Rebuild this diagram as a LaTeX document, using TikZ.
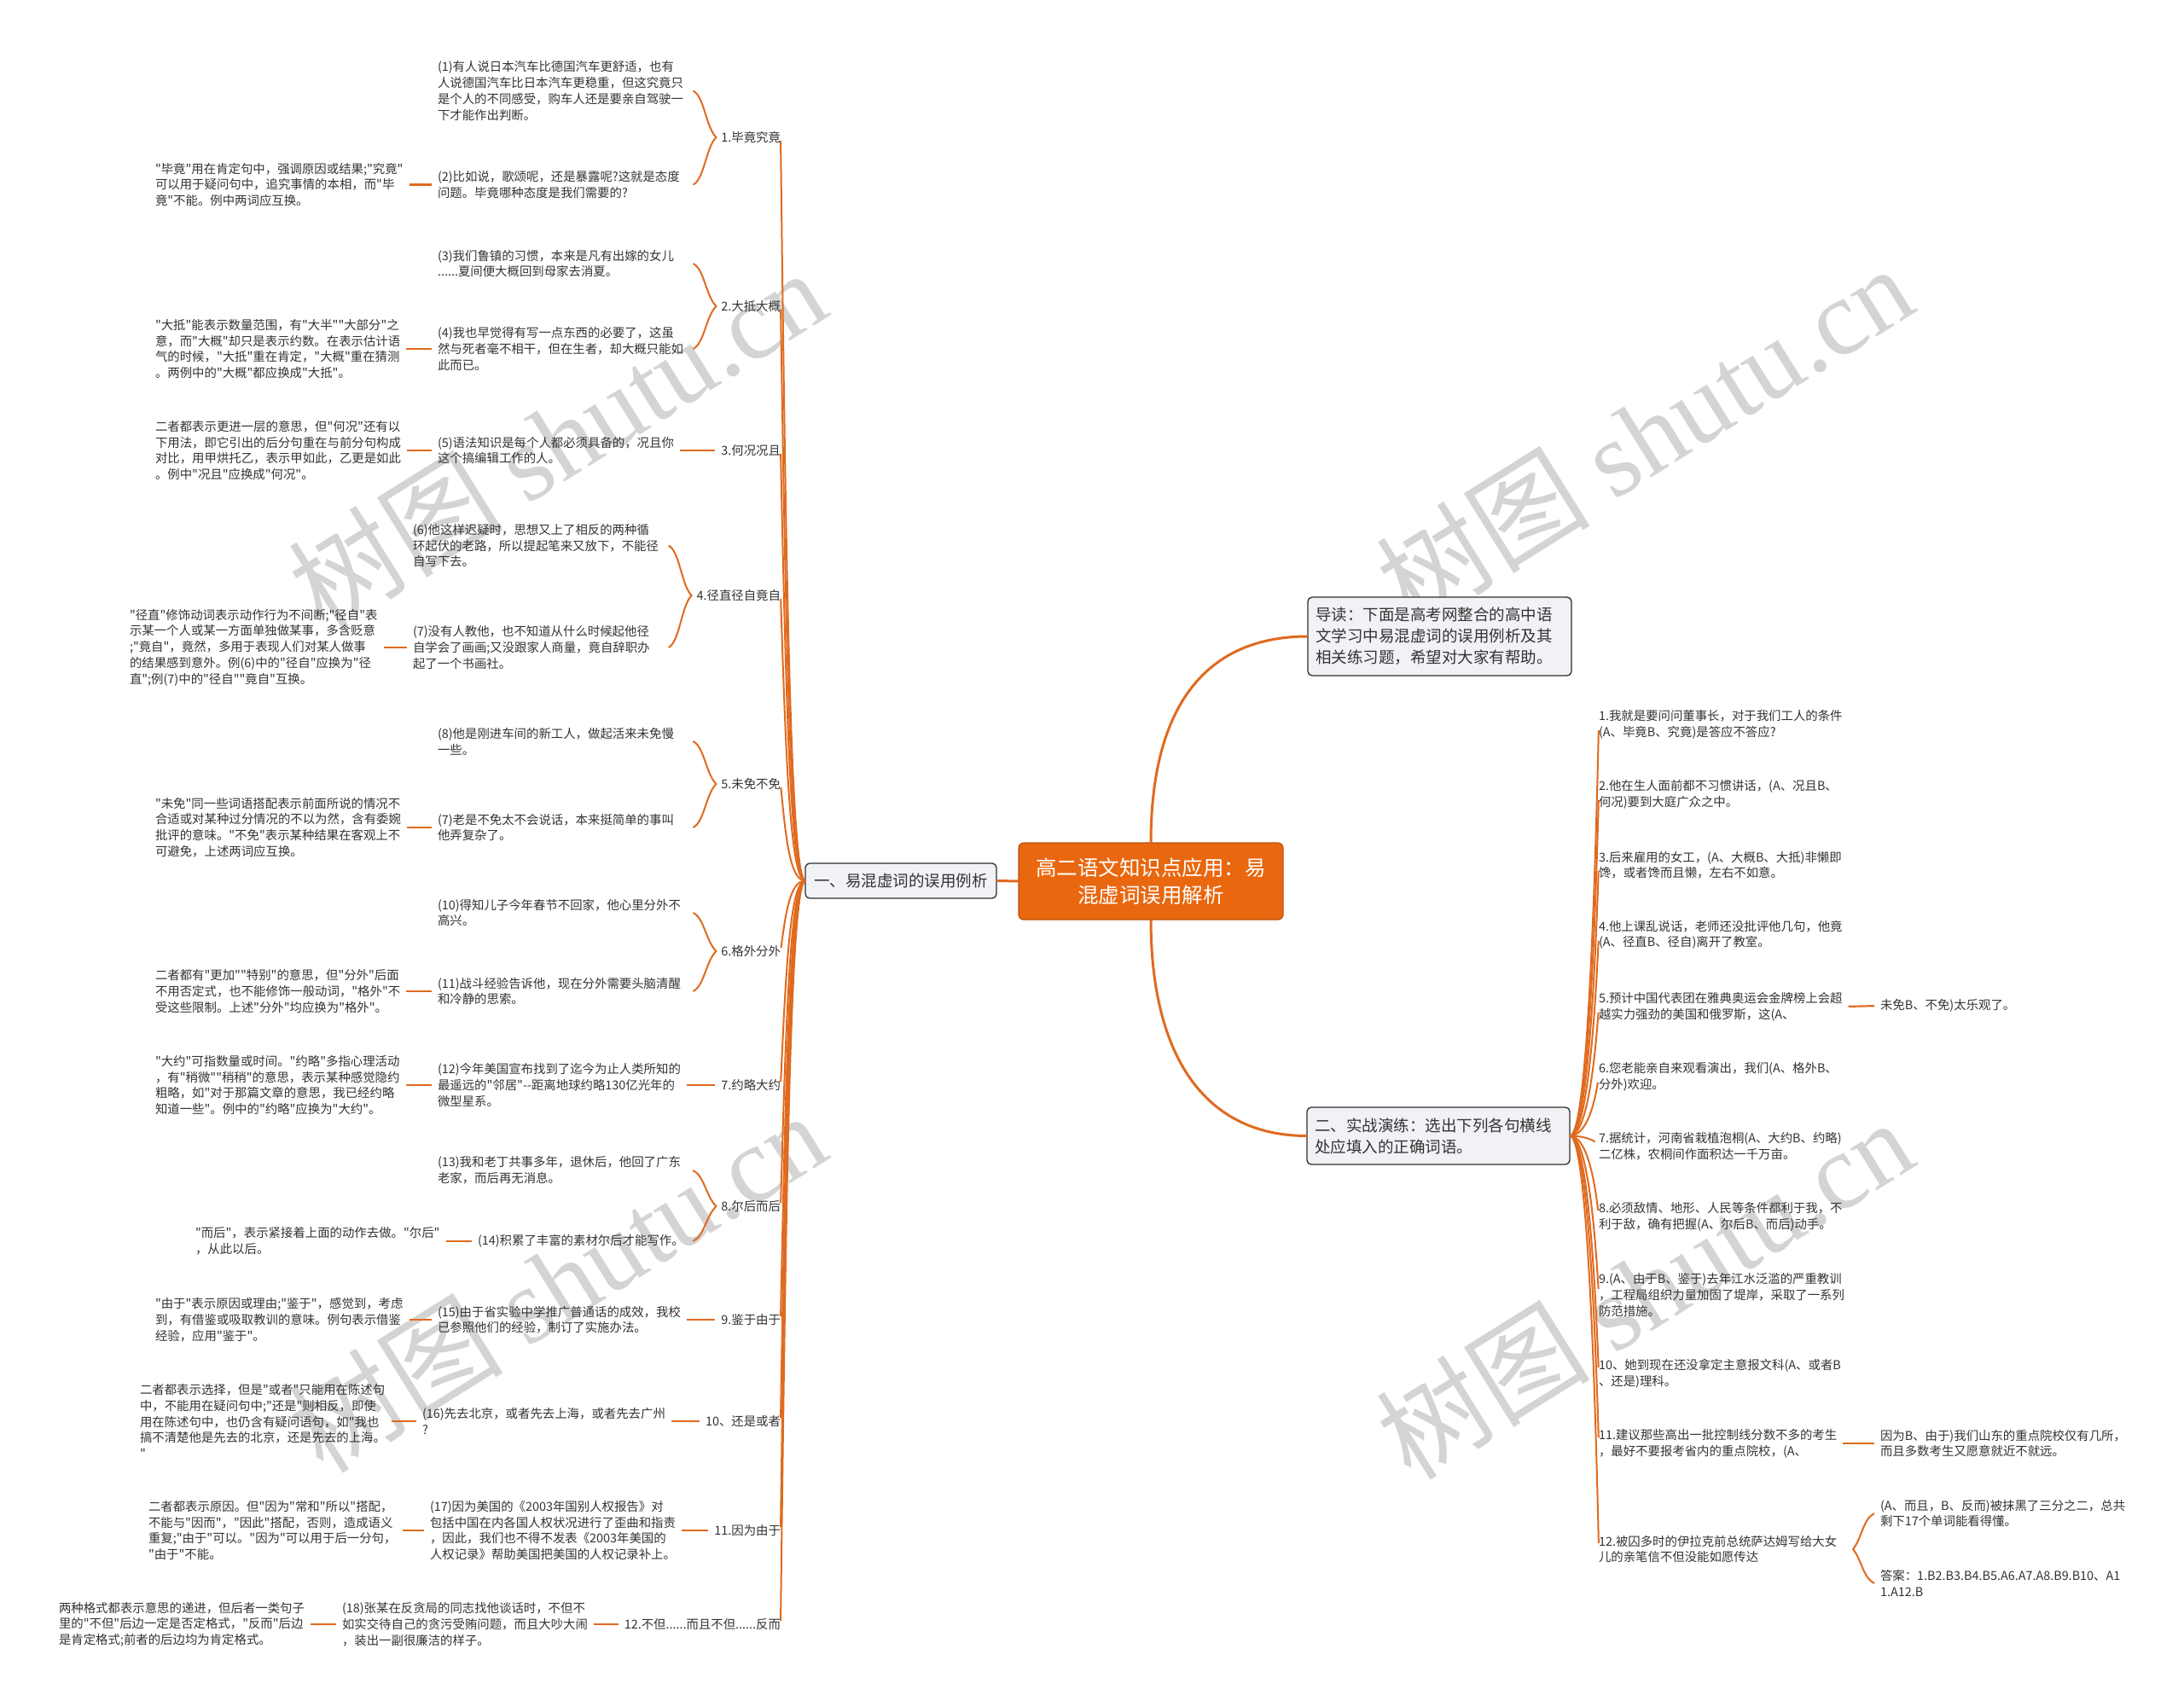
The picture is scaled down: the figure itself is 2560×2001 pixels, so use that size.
\documentclass[tikz,border=0pt]{standalone}
\usepackage{fontspec}
\setmainfont{Noto Sans CJK SC}[Ligatures=TeXOff]
\newfontfamily\wmserif{Liberation Serif}
\usetikzlibrary{calc}
\definecolor{orng}{HTML}{E06A1F}
\definecolor{txt}{HTML}{333333}
\definecolor{boxfill}{HTML}{F0F2F5}
\definecolor{boxline}{HTML}{2E2E2E}
\definecolor{ctrfill}{HTML}{E8670F}
\definecolor{ctrline}{HTML}{B9520C}
\definecolor{wm}{HTML}{D4D4D4}
\newcommand\bracel[3]{%
 \draw[brc] let \p1=(#1.west), \p2=(#2.west), \p3=(#3.west) in
 (\x1-33pt,\y2) .. controls (\x1-20pt,\y2-6pt) and (\x1-18pt,\y1+12pt) .. (\x1-6pt,\y1)
 .. controls (\x1-18pt,\y1-12pt) and (\x1-20pt,\y3+6pt) .. (\x1-33pt,\y3);}
\newcommand\bracer[3]{%
 \draw[brc] let \p1=(#2.west), \p2=(#3.west), \p4=(#1.west) in
 (\x1-7pt,\y1) .. controls (\x1-20pt,\y1-6pt) and (\x1-22pt,\y4+12pt) .. (\x1-32pt,\y4)
 .. controls (\x1-22pt,\y4-12pt) and (\x1-20pt,\y2+6pt) .. (\x2-7pt,\y2);}
\begin{document}
\begin{tikzpicture}[x=1pt,y=-1pt,
  every node/.style={inner sep=0pt, outer sep=0pt, text=txt},
  small/.style={font=\fontsize{14.4}{18.7}\selectfont, align=left},
  lbl/.style={small, anchor=east},
  txtw/.style={small, anchor=west},
  conn/.style={draw=orng, line width=2.2pt},
  dashc/.style={conn, shorten <=7pt, shorten >=7pt},
  fan/.style={draw=orng, line width=2pt},
  brc/.style={draw=orng, line width=2pt},
  mainc/.style={draw=orng, line width=3pt},
  bx/.style={draw=boxline, fill=boxfill, rounded corners=5pt, line width=1.3pt,
    font=\fontsize{18.5}{25}\selectfont, inner xsep=9pt},
  ctr/.style={draw=ctrline, fill=ctrfill, rounded corners=6pt, line width=1.2pt,
    minimum width=310pt, minimum height=90pt, text=white, align=center,
    font=\fontsize{24.5}{32}\selectfont},
  wmark/.style={text=wm, rotate=32, font=\fontsize{126}{126}\selectfont}
]
\fill[white] (0,0) rectangle (2560,2001);
\useasboundingbox (0,0) rectangle (2560,2001);

% watermarks
\node[wmark] (w1) at (653,514) {树图 {\wmserif shutu.cn}};
\node[wmark] (w2) at (653,1502) {树图 {\wmserif shutu.cn}};
\node[wmark] (w3) at (1927,509) {树图 {\wmserif shutu.cn}};
\node[wmark] (w4) at (1927,1510) {树图 {\wmserif shutu.cn}};

% central and main boxes
\node[ctr] (c) at (1349,1033) {高二语文知识点应用：易\\混虚词误用解析};
\node[bx, minimum width=224pt, minimum height=41pt] (lb) at (1056,1032.5) {一、易混虚词的误用例析};
\node[bx, text width=291pt, minimum height=92pt, align=left] (db) at (1687.5,746) {导读：下面是高考网整合的高中语\\文学习中易混虚词的误用例析及其\\相关练习题，希望对大家有帮助。};
\node[bx, text width=290pt, minimum height=67pt, align=left] (rb) at (1686,1331.5) {二、实战演练：选出下列各句横线\\处应填入的正确词语。};

% row 1
\node[lbl] (l1) at (915,161) {1.毕竟究竟};
\node[txtw] (e1) at (513,106.5) {(1)有人说日本汽车比德国汽车更舒适，也有\\人说德国汽车比日本汽车更稳重，但这究竟只\\是个人的不同感受，购车人还是要亲自驾驶一\\下才能作出判断。};
\node[txtw] (e2) at (513,216.5) {(2)比如说，歌颂呢，还是暴露呢?这就是态度\\问题。毕竟哪种态度是我们需要的?};
\node[txtw] (n1) at (182,216.5) {"毕竟"用在肯定句中，强调原因或结果;"究竟"\\可以用于疑问句中，追究事情的本相，而"毕\\竟"不能。例中两词应互换。};
% row 2
\node[lbl] (l2) at (915,359) {2.大抵大概};
\node[txtw] (e3) at (513,309) {(3)我们鲁镇的习惯，本来是凡有出嫁的女儿\\......夏间便大概回到母家去消夏。};
\node[txtw] (e4) at (513,409) {(4)我也早觉得有写一点东西的必要了，这虽\\然与死者毫不相干，但在生者，却大概只能如\\此而已。};
\node[txtw] (n2) at (182,409) {"大抵"能表示数量范围，有"大半""大部分"之\\意，而"大概"却只是表示约数。在表示估计语\\气的时候，"大抵"重在肯定，"大概"重在猜测\\。两例中的"大概"都应换成"大抵"。};
% row 3
\node[lbl] (l3) at (915,528) {3.何况况且};
\node[txtw] (e5) at (513,528) {(5)语法知识是每个人都必须具备的，况且你\\这个搞编辑工作的人。};
\node[txtw] (n3) at (182,528) {二者都表示更进一层的意思，但"何况"还有以\\下用法，即它引出的后分句重在与前分句构成\\对比，用甲烘托乙，表示甲如此，乙更是如此\\。例中"况且"应换成"何况"。};
% row 4
\node[lbl] (l4) at (915,698) {4.径直径自竟自};
\node[txtw] (e6) at (484,639.5) {(6)他这样迟疑时，思想又上了相反的两种循\\环起伏的老路，所以提起笔来又放下，不能径\\自写下去。};
\node[txtw] (e7) at (484,759) {(7)没有人教他，也不知道从什么时候起他径\\自学会了画画;又没跟家人商量，竟自辞职办\\起了一个书画社。};
\node[txtw] (n4) at (152,759) {"径直"修饰动词表示动作行为不间断;"径自"表\\示某一个人或某一方面单独做某事，多含贬意\\;"竟自"，竟然，多用于表现人们对某人做事\\的结果感到意外。例(6)中的"径自"应换为"径\\直";例(7)中的"径自""竟自"互换。};
% row 5
\node[lbl] (l5) at (915,919) {5.未免不免};
\node[txtw] (e8) at (513,869) {(8)他是刚进车间的新工人，做起活来未免慢\\一些。};
\node[txtw] (e9) at (513,970) {(7)老是不免太不会说话，本来挺简单的事叫\\他弄复杂了。};
\node[txtw] (n5) at (182,970) {"未免"同一些词语搭配表示前面所说的情况不\\合适或对某种过分情况的不以为然，含有委婉\\批评的意味。"不免"表示某种结果在客观上不\\可避免，上述两词应互换。};
% row 6
\node[lbl] (l6) at (915,1115) {6.格外分外};
\node[txtw] (e10) at (513,1070) {(10)得知儿子今年春节不回家，他心里分外不\\高兴。};
\node[txtw] (e11) at (513,1162) {(11)战斗经验告诉他，现在分外需要头脑清醒\\和冷静的思索。};
\node[txtw] (n6) at (182,1162) {二者都有"更加""特别"的意思，但"分外"后面\\不用否定式，也不能修饰一般动词，"格外"不\\受这些限制。上述"分外"均应换为"格外"。};
% row 7
\node[lbl] (l7) at (915,1272) {7.约略大约};
\node[txtw] (e12) at (513,1272) {(12)今年美国宣布找到了迄今为止人类所知的\\最遥远的"邻居"-{}-距离地球约略130亿光年的\\微型星系。};
\node[txtw] (n7) at (182,1272) {"大约"可指数量或时间。"约略"多指心理活动\\，有"稍微""稍稍"的意思，表示某种感觉隐约\\粗略，如"对于那篇文章的意思，我已经约略\\知道一些"。例中的"约略"应换为"大约"。};
% row 8
\node[lbl] (l8) at (915,1414) {8.尔后而后};
\node[txtw] (e13) at (513,1372) {(13)我和老丁共事多年，退休后，他回了广东\\老家，而后再无消息。};
\node[txtw] (e14) at (560,1455) {(14)积累了丰富的素材尔后才能写作。};
\node[txtw] (n8) at (229,1455) {"而后"，表示紧接着上面的动作去做。"尔后"\\，从此以后。};
% row 9
\node[lbl] (l9) at (915,1547) {9.鉴于由于};
\node[txtw] (e15) at (513,1547) {(15)由于省实验中学推广普通话的成效，我校\\已参照他们的经验，制订了实施办法。};
\node[txtw] (n9) at (182,1547) {"由于"表示原因或理由;"鉴于"，感觉到，考虑\\到，有借鉴或吸取教训的意味。例句表示借鉴\\经验，应用"鉴于"。};
% row 10
\node[lbl] (l10) at (915,1666) {10、还是或者};
\node[txtw] (e16) at (495,1666) {(16)先去北京，或者先去上海，或者先去广州\\?};
\node[txtw] (n10) at (164,1666) {二者都表示选择，但是"或者"只能用在陈述句\\中，不能用在疑问句中;"还是"则相反，即使\\用在陈述句中，也仍含有疑问语句，如"我也\\搞不清楚他是先去的北京，还是先去的上海。\\"};
% row 11
\node[lbl] (l11) at (915,1794) {11.因为由于};
\node[txtw] (e17) at (504,1794) {(17)因为美国的《2003年国别人权报告》对\\包括中国在内各国人权状况进行了歪曲和指责\\，因此，我们也不得不发表《2003年美国的\\人权记录》帮助美国把美国的人权记录补上。};
\node[txtw] (n11) at (174,1794) {二者都表示原因。但"因为"常和"所以"搭配，\\不能与"因而"，"因此"搭配，否则，造成语义\\重复;"由于"可以。"因为"可以用于后一分句，\\"由于"不能。};
% row 12
\node[lbl] (l12) at (915,1904) {12.不但......而且不但......反而};
\node[txtw] (e18) at (401,1904) {(18)张某在反贪局的同志找他谈话时，不但不\\如实交待自己的贪污受贿问题，而且大吵大闹\\，装出一副很廉洁的样子。};
\node[txtw] (n12) at (69,1904) {两种格式都表示意思的递进，但后者一类句子\\里的"不但"后边一定是否定格式，"反而"后边\\是肯定格式;前者的后边均为肯定格式。};

% right side
\node[txtw] (q1) at (1874,849) {1.我就是要问问董事长，对于我们工人的条件\\(A、毕竟B、究竟)是答应不答应?};
\node[txtw] (q2) at (1874,931) {2.他在生人面前都不习惯讲话，(A、况且B、\\何况)要到大庭广众之中。};
\node[txtw] (q3) at (1874,1014) {3.后来雇用的女工，(A、大概B、大抵)非懒即\\馋，或者馋而且懒，左右不如意。};
\node[txtw] (q4) at (1874,1096) {4.他上课乱说话，老师还没批评他几句，他竟\\(A、径直B、径自)离开了教室。};
\node[txtw] (q5) at (1874,1180) {5.预计中国代表团在雅典奥运会金牌榜上会超\\越实力强劲的美国和俄罗斯，这(A、};
\node[txtw] (a5) at (2204,1179) {未免B、不免)太乐观了。};
\node[txtw] (q6) at (1874,1262) {6.您老能亲自来观看演出，我们(A、格外B、\\分外)欢迎。};
\node[txtw] (q7) at (1874,1344) {7.据统计，河南省栽植泡桐(A、大约B、约略)\\二亿株，农桐间作面积达一千万亩。};
\node[txtw] (q8) at (1874,1426) {8.必须敌情、地形、人民等条件都利于我，不\\利于敌，确有把握(A、尔后B、而后)动手。};
\node[txtw] (q9) at (1874,1518) {9.(A、由于B、鉴于)去年江水泛滥的严重教训\\，工程局组织力量加固了堤岸，采取了一系列\\防范措施。};
\node[txtw] (q10) at (1874,1610) {10、她到现在还没拿定主意报文科(A、或者B\\、还是)理科。};
\node[txtw] (q11) at (1874,1692) {11.建议那些高出一批控制线分数不多的考生\\，最好不要报考省内的重点院校，(A、};
\node[txtw] (a11) at (2204,1692) {因为B、由于)我们山东的重点院校仅有几所，\\而且多数考生又愿意就近不就远。};
\node[txtw] (q12) at (1874,1816) {12.被囚多时的伊拉克前总统萨达姆写给大女\\儿的亲笔信不但没能如愿传达};
\node[txtw] (a12a) at (2204,1774) {(A、而且，B、反而)被抹黑了三分之二，总共\\剩下17个单词能看得懂。};
\node[txtw] (a12b) at (2204,1856) {答案：1.B2.B3.B4.B5.A6.A7.A8.B9.B10、A1\\1.A12.B};

% main connectors
\draw[mainc] (c.west) -- (lb.east);
\draw[mainc] (c.north) .. controls +(0,-160) and +(-120,0) .. (db.west);
\draw[mainc] (c.south) .. controls +(0,160) and +(-120,0) .. (rb.west);

% left fan
\foreach \n/\d in {1/480,2/371,3/278,4/184,5/63,6/-45,7/-131,8/-210,9/-283,10/-348,11/-419,12/-479}
  \draw[fan, shorten >=4pt] (lb.west) .. controls +(-18,0) and +(6,\d) .. (l\n.east);
% right fan
\foreach \n/\d in {1/265,2/220,3/174,4/129,5/83,6/38,7/-7,8/-52,9/-103,10/-153,11/-199,12/-267}
  \draw[fan, shorten >=7pt] (rb.east) .. controls +(18,0) and +(-6,\d) .. (q\n.west);

% note dashes
\draw[dashc] (n1.east) -- (e2.west);
\draw[dashc] (n2.east) -- (e4.west);
\draw[dashc] (n3.east) -- (e5.west);
\draw[dashc] (n4.east) -- (e7.west);
\draw[dashc] (n5.east) -- (e9.west);
\draw[dashc] (n6.east) -- (e11.west);
\draw[dashc] (n7.east) -- (e12.west);
\draw[dashc] (n8.east) -- (e14.west);
\draw[dashc] (n9.east) -- (e15.west);
\draw[dashc] (n10.east) -- (e16.west);
\draw[dashc] (n11.east) -- (e17.west);
\draw[dashc] (n12.east) -- (e18.west);
% single example to label
\draw[dashc] (e5.east) -- (l3.west);
\draw[dashc] (e12.east) -- (l7.west);
\draw[dashc] (e15.east) -- (l9.west);
\draw[dashc] (e16.east) -- (l10.west);
\draw[dashc] (e17.east) -- (l11.west);
\draw[dashc] (e18.east) -- (l12.west);
\draw[dashc] (q5.east) -- (a5.west);
\draw[dashc] (q11.east) -- (a11.west);

% braces
\bracel{l1}{e1}{e2}
\bracel{l2}{e3}{e4}
\bracel{l4}{e6}{e7}
\bracel{l5}{e8}{e9}
\bracel{l6}{e10}{e11}
\bracel{l8}{e13}{e14}
\bracer{q12}{a12a}{a12b}
\end{tikzpicture}
\end{document}
